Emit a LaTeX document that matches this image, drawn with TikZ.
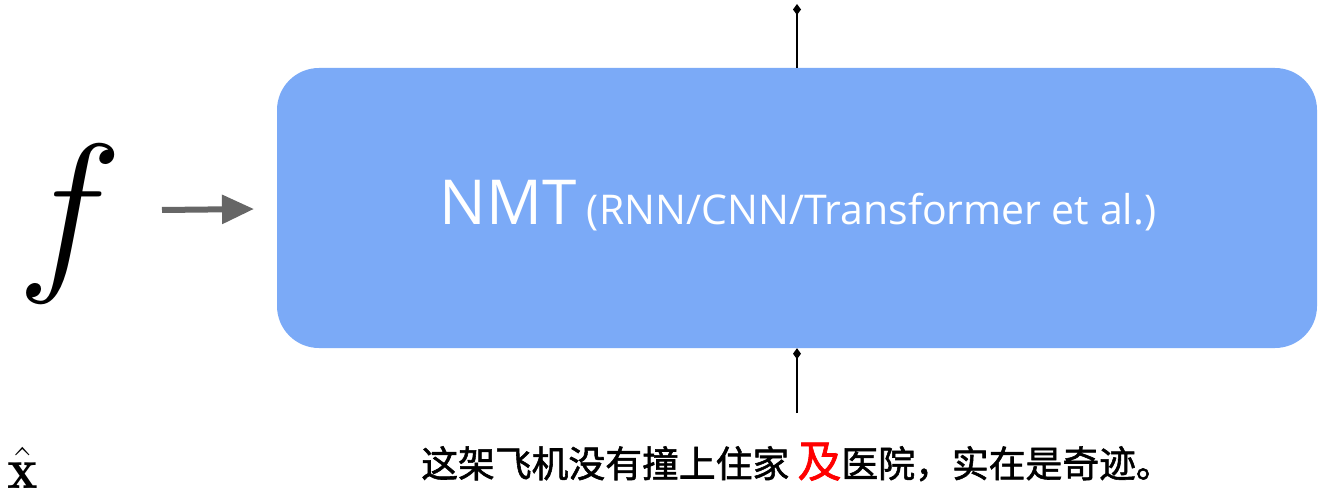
\RequirePackage{fix-cm}
\documentclass[tikz,border=0pt]{standalone}
\usepackage{fontspec}
\usepackage{amsmath}
\setsansfont{Open Sans}
\newfontfamily\cjk[FakeBold=1.5]{Noto Sans CJK SC}
\usetikzlibrary{arrows.meta}
\definecolor{boxblue}{HTML}{7BAAF7}
\definecolor{arrgray}{HTML}{666666}
\tikzset{
  nmtbox/.style={fill=boxblue, draw=none, rounded corners=42pt, minimum width=1040pt, minimum height=280pt, inner sep=0pt},
  ioline/.style={draw=black, line width=1.8pt, -{Diamond[length=11pt,width=8pt]}},
}
\begin{document}
\begin{tikzpicture}[x=1pt,y=-1pt]
\useasboundingbox (0,0) rectangle (1318,500);
\node[nmtbox] (box) at (797,208) {};
\node[anchor=center, text=white, font=\sffamily] (label) at (798,206)
  {\fontsize{62}{70}\selectfont NMT\,\fontsize{41}{46}\selectfont (RNN/CNN/Transformer et al.)};
\node (f) at (70,224) {\fontsize{178}{190}\selectfont $f$};
\coordinate (arrs) at (162,210);
\coordinate (arre) at (254,209);
\draw[arrgray, line width=6pt, -{Triangle[length=32pt,width=28pt]}] (arrs) -- (arre);
\coordinate (topend) at (797,4);
\draw[ioline] (box.north) -- (topend);
\coordinate (botstart) at (797,413);
\draw[ioline] (botstart) -- (box.south);
\node (xhat) at (23,468) {\fontsize{58}{64}\selectfont $\hat{\mathbf{x}}$};
\node (sent) at (797,462) {\cjk\fontsize{36.8}{40}\selectfont 这架飞机没有撞上住家 {\color{red}\fontsize{44}{48}\selectfont 及}医院，实在是奇迹。};
\end{tikzpicture}
\end{document}
